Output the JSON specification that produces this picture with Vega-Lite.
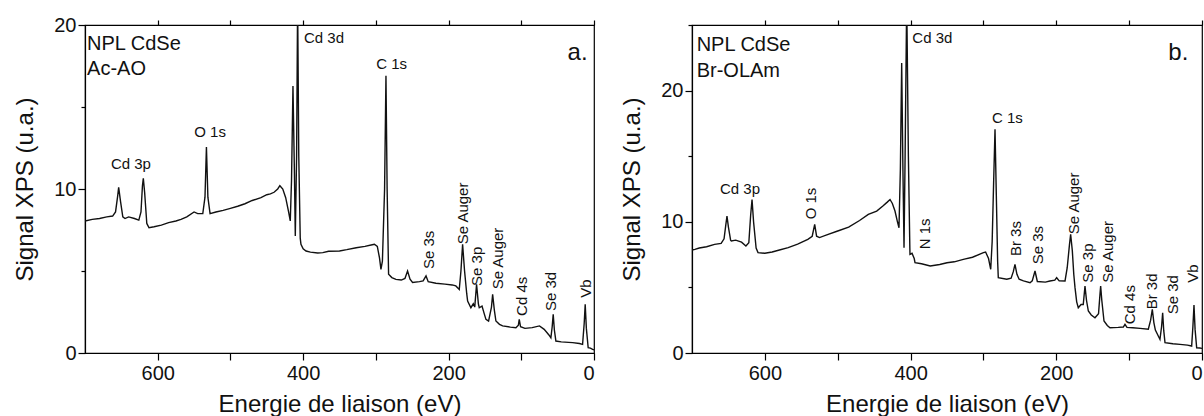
{
  "$schema": "https://vega.github.io/schema/vega-lite/v6.json",
  "padding": {"left": 13, "top": 14, "right": 0, "bottom": 0},
  "background": "white",
  "config": {
    "view": {"stroke": "black", "strokeWidth": 1.2},
    "axis": {"domainColor": "black", "tickColor": "black", "labelColor": "#111", "titleColor": "#111", "labelFont": "Liberation Sans", "titleFont": "Liberation Sans", "labelFontSize": 20, "titleFontSize": 24, "titleFontWeight": "normal", "grid": false, "tickWidth": 1.2, "domainWidth": 1.2},
    "text": {"font": "Liberation Sans", "color": "#111"},
    "concat": {"spacing": 24}
  },
  "datasets": {
    "spec": [
      {"panel":"a","E":700,"I":8.05},{"panel":"a","E":690,"I":8.15},{"panel":"a","E":680,"I":8.2},{"panel":"a","E":670,"I":8.3},{"panel":"a","E":662,"I":8.35},{"panel":"a","E":658,"I":8.6},{"panel":"a","E":655,"I":9.6},{"panel":"a","E":653.7,"I":10.1},{"panel":"a","E":651,"I":9.2},{"panel":"a","E":648,"I":8.3},{"panel":"a","E":645,"I":8.2},{"panel":"a","E":640,"I":8.3},{"panel":"a","E":632,"I":8.2},{"panel":"a","E":626,"I":8.1},{"panel":"a","E":623,"I":8.6},{"panel":"a","E":621,"I":10.2},{"panel":"a","E":619.8,"I":10.65},{"panel":"a","E":618,"I":9.8},{"panel":"a","E":615,"I":7.9},{"panel":"a","E":612,"I":7.64},{"panel":"a","E":605,"I":7.7},{"panel":"a","E":595,"I":7.8},{"panel":"a","E":585,"I":7.95},{"panel":"a","E":575,"I":8.05},{"panel":"a","E":568,"I":8.15},{"panel":"a","E":560,"I":8.3},{"panel":"a","E":550,"I":8.6},{"panel":"a","E":545,"I":8.5},{"panel":"a","E":538,"I":8.5},{"panel":"a","E":535,"I":9.5},{"panel":"a","E":533,"I":12.56},{"panel":"a","E":531,"I":9.5},{"panel":"a","E":528,"I":8.5},{"panel":"a","E":520,"I":8.6},{"panel":"a","E":510,"I":8.7},{"panel":"a","E":500,"I":8.82},{"panel":"a","E":490,"I":8.95},{"panel":"a","E":480,"I":9.1},{"panel":"a","E":470,"I":9.3},{"panel":"a","E":458,"I":9.47},{"panel":"a","E":450,"I":9.65},{"panel":"a","E":445,"I":9.7},{"panel":"a","E":440,"I":9.8},{"panel":"a","E":435,"I":10.0},{"panel":"a","E":432,"I":10.2},{"panel":"a","E":428,"I":10.0},{"panel":"a","E":424,"I":9.47},{"panel":"a","E":420,"I":8.6},{"panel":"a","E":417.7,"I":8.05},{"panel":"a","E":416,"I":10.5},{"panel":"a","E":414,"I":16.28},{"panel":"a","E":412,"I":11},{"panel":"a","E":410.8,"I":7.13},{"panel":"a","E":409,"I":12},{"panel":"a","E":407.6,"I":21.5},{"panel":"a","E":406,"I":12},{"panel":"a","E":404,"I":7},{"panel":"a","E":403,"I":6.63},{"panel":"a","E":400,"I":6.35},{"panel":"a","E":396,"I":6.22},{"panel":"a","E":390,"I":6.15},{"panel":"a","E":380,"I":6.1},{"panel":"a","E":373,"I":6.12},{"panel":"a","E":365,"I":6.2},{"panel":"a","E":350,"I":6.22},{"panel":"a","E":340,"I":6.3},{"panel":"a","E":327,"I":6.42},{"panel":"a","E":315,"I":6.5},{"panel":"a","E":305,"I":6.6},{"panel":"a","E":302,"I":6.63},{"panel":"a","E":298,"I":6.5},{"panel":"a","E":295,"I":5.8},{"panel":"a","E":293,"I":5.1},{"panel":"a","E":291,"I":5.6},{"panel":"a","E":288,"I":10},{"panel":"a","E":286.1,"I":16.9},{"panel":"a","E":284.5,"I":10},{"panel":"a","E":282.5,"I":4.8},{"panel":"a","E":278,"I":4.6},{"panel":"a","E":272.4,"I":4.49},{"panel":"a","E":265,"I":4.45},{"panel":"a","E":260,"I":4.55},{"panel":"a","E":256.4,"I":5.0},{"panel":"a","E":253,"I":4.5},{"panel":"a","E":249.5,"I":4.3},{"panel":"a","E":240,"I":4.35},{"panel":"a","E":235,"I":4.4},{"panel":"a","E":231,"I":4.7},{"panel":"a","E":228,"I":4.35},{"panel":"a","E":217.4,"I":4.25},{"panel":"a","E":205,"I":4.2},{"panel":"a","E":195,"I":4.15},{"panel":"a","E":190,"I":4.09},{"panel":"a","E":185.3,"I":3.88},{"panel":"a","E":183,"I":5.0},{"panel":"a","E":180.7,"I":6.63},{"panel":"a","E":178,"I":5.0},{"panel":"a","E":175,"I":3.6},{"panel":"a","E":173.8,"I":3.17},{"panel":"a","E":169.3,"I":2.76},{"panel":"a","E":166,"I":3.0},{"panel":"a","E":164,"I":2.8},{"panel":"a","E":161.5,"I":4.19},{"panel":"a","E":159,"I":3.0},{"panel":"a","E":157.8,"I":2.76},{"panel":"a","E":154,"I":2.86},{"panel":"a","E":151,"I":2.4},{"panel":"a","E":148.6,"I":2.05},{"panel":"a","E":145,"I":1.95},{"panel":"a","E":141,"I":2.8},{"panel":"a","E":139.4,"I":3.58},{"panel":"a","E":137,"I":2.6},{"panel":"a","E":134.9,"I":1.95},{"panel":"a","E":130,"I":1.75},{"panel":"a","E":125.7,"I":1.65},{"panel":"a","E":115,"I":1.58},{"panel":"a","E":107.4,"I":1.54},{"panel":"a","E":104,"I":1.7},{"panel":"a","E":102.8,"I":2.05},{"panel":"a","E":101,"I":1.6},{"panel":"a","E":95,"I":1.5},{"panel":"a","E":85,"I":1.55},{"panel":"a","E":75,"I":1.65},{"panel":"a","E":68.5,"I":1.44},{"panel":"a","E":62,"I":1.1},{"panel":"a","E":59.3,"I":0.93},{"panel":"a","E":57.5,"I":1.6},{"panel":"a","E":56.1,"I":2.36},{"panel":"a","E":54.5,"I":1.4},{"panel":"a","E":52.4,"I":0.73},{"panel":"a","E":45,"I":0.68},{"panel":"a","E":35,"I":0.65},{"panel":"a","E":29.4,"I":0.63},{"panel":"a","E":20,"I":0.58},{"panel":"a","E":15.7,"I":0.53},{"panel":"a","E":13.5,"I":1.8},{"panel":"a","E":12.1,"I":2.97},{"panel":"a","E":10.5,"I":1.5},{"panel":"a","E":8,"I":0.32},{"panel":"a","E":5,"I":0.3},{"panel":"a","E":1.9,"I":0.22},{"panel":"a","E":0,"I":0.2},
      {"panel":"b","E":700,"I":7.85},{"panel":"b","E":696,"I":7.9},{"panel":"b","E":690,"I":8.0},{"panel":"b","E":680,"I":8.1},{"panel":"b","E":669,"I":8.28},{"panel":"b","E":660,"I":8.35},{"panel":"b","E":656,"I":8.7},{"panel":"b","E":653.5,"I":9.8},{"panel":"b","E":652,"I":10.44},{"panel":"b","E":650,"I":9.6},{"panel":"b","E":647,"I":8.6},{"panel":"b","E":646,"I":8.54},{"panel":"b","E":640,"I":8.6},{"panel":"b","E":632,"I":8.45},{"panel":"b","E":626,"I":8.16},{"panel":"b","E":622,"I":8.4},{"panel":"b","E":619.5,"I":10.5},{"panel":"b","E":617.6,"I":11.7},{"panel":"b","E":615.5,"I":10},{"panel":"b","E":612,"I":8.0},{"panel":"b","E":609.4,"I":7.65},{"panel":"b","E":600,"I":7.6},{"panel":"b","E":590,"I":7.7},{"panel":"b","E":580,"I":7.85},{"panel":"b","E":568,"I":8.03},{"panel":"b","E":555,"I":8.3},{"panel":"b","E":541,"I":8.66},{"panel":"b","E":535,"I":8.9},{"panel":"b","E":531.6,"I":9.8},{"panel":"b","E":529,"I":8.9},{"panel":"b","E":525,"I":8.8},{"panel":"b","E":515,"I":9.0},{"panel":"b","E":500,"I":9.3},{"panel":"b","E":485,"I":9.6},{"panel":"b","E":470,"I":10.1},{"panel":"b","E":458,"I":10.57},{"panel":"b","E":446.5,"I":10.82},{"panel":"b","E":438,"I":11.2},{"panel":"b","E":432,"I":11.5},{"panel":"b","E":428.2,"I":11.7},{"panel":"b","E":425,"I":11.4},{"panel":"b","E":421.4,"I":10.82},{"panel":"b","E":418,"I":10.0},{"panel":"b","E":415.9,"I":9.55},{"panel":"b","E":414,"I":14},{"panel":"b","E":412.2,"I":22.1},{"panel":"b","E":410.5,"I":14},{"panel":"b","E":409,"I":8.03},{"panel":"b","E":407.5,"I":15},{"panel":"b","E":405.3,"I":27},{"panel":"b","E":403,"I":15},{"panel":"b","E":401,"I":8},{"panel":"b","E":400.8,"I":7.52},{"panel":"b","E":398,"I":7.6},{"panel":"b","E":395,"I":7.2},{"panel":"b","E":393.9,"I":6.88},{"panel":"b","E":385,"I":6.8},{"panel":"b","E":373,"I":6.63},{"panel":"b","E":360,"I":6.75},{"panel":"b","E":350,"I":6.88},{"panel":"b","E":340,"I":6.95},{"panel":"b","E":327.6,"I":7.14},{"panel":"b","E":315,"I":7.3},{"panel":"b","E":300,"I":7.65},{"panel":"b","E":297,"I":7.7},{"panel":"b","E":293,"I":7.2},{"panel":"b","E":290,"I":6.38},{"panel":"b","E":288,"I":8.5},{"panel":"b","E":286,"I":13},{"panel":"b","E":284.1,"I":17.05},{"panel":"b","E":282.3,"I":12},{"panel":"b","E":280.5,"I":7},{"panel":"b","E":279.6,"I":5.74},{"panel":"b","E":268,"I":5.62},{"panel":"b","E":262,"I":5.7},{"panel":"b","E":259,"I":6.2},{"panel":"b","E":256.7,"I":6.76},{"panel":"b","E":254,"I":6.0},{"panel":"b","E":251,"I":5.62},{"panel":"b","E":245,"I":5.5},{"panel":"b","E":236,"I":5.36},{"panel":"b","E":233,"I":5.5},{"panel":"b","E":229.2,"I":6.25},{"panel":"b","E":226,"I":5.45},{"panel":"b","E":215,"I":5.4},{"panel":"b","E":208.7,"I":5.49},{"panel":"b","E":202,"I":5.55},{"panel":"b","E":199.5,"I":5.74},{"panel":"b","E":196,"I":5.5},{"panel":"b","E":188,"I":5.49},{"panel":"b","E":185,"I":6.5},{"panel":"b","E":182,"I":8.2},{"panel":"b","E":180.3,"I":9.05},{"panel":"b","E":178,"I":7.8},{"panel":"b","E":176,"I":6.0},{"panel":"b","E":174.3,"I":4.98},{"panel":"b","E":172,"I":3.9},{"panel":"b","E":169.8,"I":3.45},{"panel":"b","E":166,"I":3.7},{"panel":"b","E":163,"I":3.7},{"panel":"b","E":160.6,"I":5.1},{"panel":"b","E":158.5,"I":4.0},{"panel":"b","E":156,"I":3.2},{"panel":"b","E":152,"I":2.9},{"panel":"b","E":146.9,"I":2.69},{"panel":"b","E":142,"I":3.0},{"panel":"b","E":140,"I":4.5},{"panel":"b","E":139.1,"I":5.1},{"panel":"b","E":137.5,"I":4.0},{"panel":"b","E":134.5,"I":2.44},{"panel":"b","E":130,"I":2.1},{"panel":"b","E":126.3,"I":1.93},{"panel":"b","E":115,"I":1.95},{"panel":"b","E":108,"I":1.98},{"panel":"b","E":105.7,"I":2.18},{"panel":"b","E":103,"I":1.95},{"panel":"b","E":95,"I":1.93},{"panel":"b","E":85,"I":1.88},{"panel":"b","E":73.7,"I":1.82},{"panel":"b","E":70.5,"I":2.5},{"panel":"b","E":68.2,"I":3.33},{"panel":"b","E":66,"I":2.3},{"panel":"b","E":64,"I":1.75},{"panel":"b","E":60,"I":1.3},{"panel":"b","E":57.7,"I":1.04},{"panel":"b","E":55.5,"I":2.0},{"panel":"b","E":54,"I":3.07},{"panel":"b","E":52.5,"I":1.7},{"panel":"b","E":50.8,"I":0.79},{"panel":"b","E":40,"I":0.7},{"panel":"b","E":30.2,"I":0.66},{"panel":"b","E":20,"I":0.6},{"panel":"b","E":14.2,"I":0.53},{"panel":"b","E":12.5,"I":2.0},{"panel":"b","E":11,"I":3.66},{"panel":"b","E":9.5,"I":1.8},{"panel":"b","E":7.3,"I":0.4},{"panel":"b","E":3,"I":0.38},{"panel":"b","E":0,"I":0.35}
    ],
    "labels": [
      {"panel":"a","kind":"h","text":"Cd 3p","E":636.8,"I":11.5},
      {"panel":"a","kind":"h","text":"O 1s","E":528,"I":13.5},
      {"panel":"a","kind":"hl","text":"Cd 3d","E":398.9,"I":19.2},
      {"panel":"a","kind":"h","text":"C 1s","E":278.3,"I":17.6},
      {"panel":"a","kind":"v","text":"Se 3s","E":227,"I":5.12},
      {"panel":"a","kind":"v","text":"Se Auger","E":180.7,"I":6.63},
      {"panel":"a","kind":"v","text":"Se 3p","E":161.5,"I":4.09},
      {"panel":"a","kind":"v","text":"Se Auger","E":131.7,"I":3.88},
      {"panel":"a","kind":"v","text":"Cd 4s","E":99.1,"I":2.26},
      {"panel":"a","kind":"v","text":"Se 3d","E":59.2,"I":2.56},
      {"panel":"a","kind":"v","text":"Vb","E":11.1,"I":3.37},
      {"panel":"a","kind":"sample","text":"NPL CdSe","E":697.2,"I":18.84},
      {"panel":"a","kind":"sample","text":"Ac-AO","E":697.2,"I":17.32},
      {"panel":"a","kind":"tag","text":"a.","E":8.8,"I":18.3},
      {"panel":"b","kind":"h","text":"Cd 3p","E":634.1,"I":12.48},
      {"panel":"b","kind":"h","text":"C 1s","E":267.2,"I":17.9},
      {"panel":"b","kind":"hl","text":"Cd 3d","E":397.6,"I":24.0},
      {"panel":"b","kind":"v","text":"O 1s","E":537.1,"I":10.19},
      {"panel":"b","kind":"v","text":"N 1s","E":380.2,"I":7.9},
      {"panel":"b","kind":"v","text":"Br 3s","E":255.3,"I":7.39},
      {"panel":"b","kind":"v","text":"Se 3s","E":225.6,"I":6.76},
      {"panel":"b","kind":"v","text":"Se Auger","E":175.7,"I":9.05},
      {"panel":"b","kind":"v","text":"Se 3p","E":156.9,"I":5.36},
      {"panel":"b","kind":"v","text":"Se Auger","E":128.6,"I":5.36},
      {"panel":"b","kind":"v","text":"Cd 4s","E":98.8,"I":2.19},
      {"panel":"b","kind":"v","text":"Br 3d","E":69.1,"I":3.33},
      {"panel":"b","kind":"v","text":"Se 3d","E":40.3,"I":2.95},
      {"panel":"b","kind":"v","text":"Vb","E":11.9,"I":5.36},
      {"panel":"b","kind":"sample","text":"NPL CdSe","E":693.6,"I":23.5},
      {"panel":"b","kind":"sample","text":"Br-OLAm","E":693.6,"I":21.5},
      {"panel":"b","kind":"tag","text":"b.","E":18.8,"I":22.9}
    ]
  },
  "hconcat": [
    {
      "width": 509, "height": 328,
      "resolve": {"axis": {"x": "independent", "y": "independent"}},
      "layer": [
        {
          "data": {"name": "spec"},
          "transform": [{"filter": "datum.panel === 'a'"}],
          "mark": {"type": "line", "color": "#111", "strokeWidth": 1.4, "clip": true},
          "encoding": {
            "x": {"field": "E", "type": "quantitative", "scale": {"domain": [0, 700], "reverse": true, "nice": false},
                  "axis": {"values": [600, 500, 400, 300, 200, 100, 0], "labelExpr": "datum.value % 200 === 0 ? datum.label : ''", "title": "Energie de liaison (eV)", "tickSize": 7, "labelPadding": 3, "titlePadding": 9}},
            "y": {"field": "I", "type": "quantitative", "scale": {"domain": [0, 20], "nice": false},
                  "axis": {"values": [0, 5, 10, 15, 20], "labelExpr": "datum.value % 10 === 0 ? datum.label : ''", "tickSize": {"condition": {"test": "datum.value % 10 === 0", "value": 7}, "value": 4}, "labelPadding": 2, "title": "Signal XPS (u.a.)", "titlePadding": 16}}
          }
        },
        {
          "data": {"name": "labels"},
          "transform": [{"filter": "datum.panel === 'a' && datum.kind === 'h'"}],
          "mark": {"type": "text", "fontSize": 15, "align": "center", "baseline": "middle"},
          "encoding": {
            "x": {"field": "E", "type": "quantitative", "axis": {"orient": "top", "values": [600, 500, 400, 300, 200, 100, 0], "labels": false, "title": null, "tickSize": 5}},
            "y": {"field": "I", "type": "quantitative", "axis": null},
            "text": {"field": "text"}
          }
        },
        {
          "data": {"name": "labels"},
          "transform": [{"filter": "datum.panel === 'a' && datum.kind === 'hl'"}],
          "mark": {"type": "text", "fontSize": 15, "align": "left", "baseline": "middle"},
          "encoding": {
            "x": {"field": "E", "type": "quantitative", "axis": null},
            "y": {"field": "I", "type": "quantitative", "axis": null},
            "text": {"field": "text"}
          }
        },
        {
          "data": {"name": "labels"},
          "transform": [{"filter": "datum.panel === 'a' && datum.kind === 'v'"}],
          "mark": {"type": "text", "fontSize": 15, "angle": 270, "align": "left", "baseline": "middle"},
          "encoding": {
            "x": {"field": "E", "type": "quantitative", "axis": null},
            "y": {"field": "I", "type": "quantitative", "axis": null},
            "text": {"field": "text"}
          }
        },
        {
          "data": {"name": "labels"},
          "transform": [{"filter": "datum.panel === 'a' && datum.kind === 'sample'"}],
          "mark": {"type": "text", "fontSize": 20, "align": "left", "baseline": "middle"},
          "encoding": {
            "x": {"field": "E", "type": "quantitative", "axis": null},
            "y": {"field": "I", "type": "quantitative", "axis": null},
            "text": {"field": "text"}
          }
        },
        {
          "data": {"name": "labels"},
          "transform": [{"filter": "datum.panel === 'a' && datum.kind === 'tag'"}],
          "mark": {"type": "text", "fontSize": 24, "align": "right", "baseline": "middle"},
          "encoding": {
            "x": {"field": "E", "type": "quantitative", "axis": null},
            "y": {"field": "I", "type": "quantitative", "axis": null},
            "text": {"field": "text"}
          }
        }
      ]
    },
    {
      "width": 510, "height": 328,
      "resolve": {"axis": {"x": "independent", "y": "independent"}},
      "layer": [
        {
          "data": {"name": "spec"},
          "transform": [{"filter": "datum.panel === 'b'"}],
          "mark": {"type": "line", "color": "#111", "strokeWidth": 1.4, "clip": true},
          "encoding": {
            "x": {"field": "E", "type": "quantitative", "scale": {"domain": [0, 700], "reverse": true, "nice": false},
                  "axis": {"values": [600, 500, 400, 300, 200, 100, 0], "labelExpr": "datum.value % 200 === 0 ? datum.label : ''", "title": "Energie de liaison (eV)", "tickSize": 7, "labelPadding": 3, "titlePadding": 9}},
            "y": {"field": "I", "type": "quantitative", "scale": {"domain": [0, 25], "nice": false},
                  "axis": {"values": [0, 5, 10, 15, 20, 25], "labelExpr": "datum.value % 10 === 0 ? datum.label : ''", "tickSize": {"condition": {"test": "datum.value % 10 === 0", "value": 7}, "value": 4}, "labelPadding": 2, "title": "Signal XPS (u.a.)", "titlePadding": 16}}
          }
        },
        {
          "data": {"name": "labels"},
          "transform": [{"filter": "datum.panel === 'b' && datum.kind === 'h'"}],
          "mark": {"type": "text", "fontSize": 15, "align": "center", "baseline": "middle"},
          "encoding": {
            "x": {"field": "E", "type": "quantitative", "axis": {"orient": "top", "values": [600, 500, 400, 300, 200, 100, 0], "labels": false, "title": null, "tickSize": 5}},
            "y": {"field": "I", "type": "quantitative", "axis": null},
            "text": {"field": "text"}
          }
        },
        {
          "data": {"name": "labels"},
          "transform": [{"filter": "datum.panel === 'b' && datum.kind === 'hl'"}],
          "mark": {"type": "text", "fontSize": 15, "align": "left", "baseline": "middle"},
          "encoding": {
            "x": {"field": "E", "type": "quantitative", "axis": null},
            "y": {"field": "I", "type": "quantitative", "axis": null},
            "text": {"field": "text"}
          }
        },
        {
          "data": {"name": "labels"},
          "transform": [{"filter": "datum.panel === 'b' && datum.kind === 'v'"}],
          "mark": {"type": "text", "fontSize": 15, "angle": 270, "align": "left", "baseline": "middle"},
          "encoding": {
            "x": {"field": "E", "type": "quantitative", "axis": null},
            "y": {"field": "I", "type": "quantitative", "axis": null},
            "text": {"field": "text"}
          }
        },
        {
          "data": {"name": "labels"},
          "transform": [{"filter": "datum.panel === 'b' && datum.kind === 'sample'"}],
          "mark": {"type": "text", "fontSize": 20, "align": "left", "baseline": "middle"},
          "encoding": {
            "x": {"field": "E", "type": "quantitative", "axis": null},
            "y": {"field": "I", "type": "quantitative", "axis": null},
            "text": {"field": "text"}
          }
        },
        {
          "data": {"name": "labels"},
          "transform": [{"filter": "datum.panel === 'b' && datum.kind === 'tag'"}],
          "mark": {"type": "text", "fontSize": 24, "align": "right", "baseline": "middle"},
          "encoding": {
            "x": {"field": "E", "type": "quantitative", "axis": null},
            "y": {"field": "I", "type": "quantitative", "axis": null},
            "text": {"field": "text"}
          }
        }
      ]
    }
  ]
}
